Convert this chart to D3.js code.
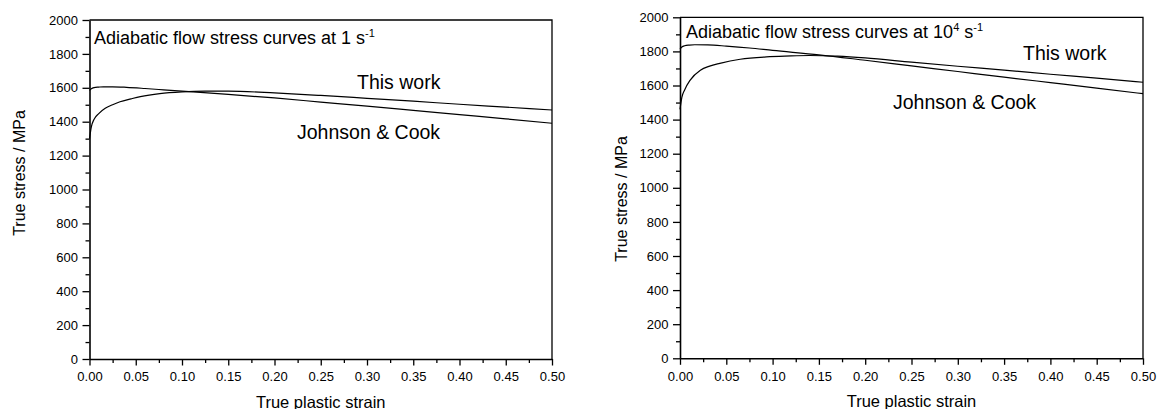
<!DOCTYPE html>
<html>
<head>
<meta charset="utf-8">
<script src="https://cdn.jsdelivr.net/npm/d3@7"></script>
<style>
  html, body { margin: 0; padding: 0; background: #fff; }
  svg { display: block; font-family: "Liberation Sans", Arial, sans-serif; }
  .axis path, .axis line { stroke: #000; }
  .axis text { fill: #000; font-size: 13px; font-family: "Liberation Sans", Arial, sans-serif; }
</style>
</head>
<body>
<svg id="chart" width="1160" height="409"></svg>
<script>
// Axis ticks (shared by both panels)
const xTicks = [0, 0.05, 0.10, 0.15, 0.20, 0.25, 0.30, 0.35, 0.40, 0.45, 0.50];
const xMinorTicks = [0.025, 0.075, 0.125, 0.175, 0.225, 0.275, 0.325, 0.375, 0.425, 0.475];
const yTicks = [0, 200, 400, 600, 800, 1000, 1200, 1400, 1600, 1800, 2000];
const yMinorTicks = [100, 300, 500, 700, 900, 1100, 1300, 1500, 1700, 1900];

// Strain rate 1 s^-1
const strain1This = [0, 0.002, 0.005, 0.01, 0.017, 0.025, 0.033, 0.045, 0.055, 0.076, 0.1, 0.125, 0.15, 0.2, 0.25, 0.3, 0.35, 0.4, 0.45, 0.5];
const stress1This = [1300, 1370, 1415, 1448, 1479, 1500, 1518, 1535, 1548, 1566, 1576, 1580, 1580, 1570, 1555, 1538, 1521, 1503, 1486, 1469];
const strain1JC = [0, 0.002, 0.005, 0.01, 0.015, 0.025, 0.04, 0.06, 0.08, 0.1, 0.15, 0.2, 0.25, 0.3, 0.35, 0.4, 0.45, 0.5];
const stress1JC = [1585, 1595, 1601, 1604, 1606, 1606, 1603, 1596, 1588, 1580, 1561, 1540, 1516, 1492, 1467, 1442, 1417, 1391];

// Strain rate 10^4 s^-1
const strain4This = [0, 0.002, 0.005, 0.011, 0.022, 0.032, 0.043, 0.065, 0.097, 0.12, 0.14, 0.17, 0.2, 0.25, 0.3, 0.35, 0.4, 0.45, 0.5];
const stress4This = [1460, 1530, 1574, 1632, 1690, 1714, 1730, 1754, 1769, 1774, 1776, 1772, 1762, 1737, 1713, 1690, 1666, 1643, 1619];
const strain4JC = [0, 0.002, 0.005, 0.01, 0.016, 0.03, 0.05, 0.075, 0.1, 0.15, 0.2, 0.25, 0.3, 0.35, 0.4, 0.45, 0.5];
const stress4JC = [1815, 1826, 1833, 1837, 1839, 1838, 1831, 1820, 1806, 1780, 1748, 1715, 1682, 1649, 1617, 1585, 1552];

const svg = d3.select("#chart");

const panels = [
  {
    box: { left: 89.5, right: 552, top: 20, bottom: 359 },
    title: [{ t: "Adiabatic flow stress curves at 1 s" }, { t: "-1", sup: true }],
    titlePos: [94, 44.3],
    series: [
      { name: "This work", x: strain1This, y: stress1This, label: [357, 88.5] },
      { name: "Johnson & Cook", x: strain1JC, y: stress1JC, label: [297, 138.5] }
    ],
    yTitle: { x: 25, y: 173 },
    xTitleY: 408
  },
  {
    box: { left: 680, right: 1143, top: 17.3, bottom: 358.3 },
    title: [{ t: "Adiabatic flow stress curves at 10" }, { t: "4", sup: true }, { t: " s" }, { t: "-1", sup: true }],
    titlePos: [686, 37.5],
    series: [
      { name: "This work", x: strain4This, y: stress4This, label: [1023, 60] },
      { name: "Johnson & Cook", x: strain4JC, y: stress4JC, label: [893, 108.5] }
    ],
    yTitle: { x: 627, y: 199 },
    xTitleY: 407
  }
];

panels.forEach(p => {
  const b = p.box;
  const x = d3.scaleLinear().domain([0, 0.5]).range([b.left, b.right]);
  const y = d3.scaleLinear().domain([0, 2000]).range([b.bottom, b.top]);
  const g = svg.append("g");

  // frame (top and right edges)
  g.append("path")
    .attr("d", `M${b.left},${b.top}H${b.right}V${b.bottom}`)
    .attr("fill", "none").attr("stroke", "#000").attr("stroke-width", 1.3);

  // minor ticks
  g.append("g").attr("class", "axis")
    .attr("transform", `translate(0,${b.bottom})`)
    .call(d3.axisBottom(x).tickValues(xMinorTicks).tickSize(4).tickFormat(""))
    .call(s => s.select(".domain").remove())
    .selectAll("line").attr("stroke-width", 1.3);
  g.append("g").attr("class", "axis")
    .attr("transform", `translate(${b.left},0)`)
    .call(d3.axisLeft(y).tickValues(yMinorTicks).tickSize(4).tickFormat(""))
    .call(s => s.select(".domain").remove())
    .selectAll("line").attr("stroke-width", 1.3);

  // major axes
  const xa = g.append("g").attr("class", "axis")
    .attr("transform", `translate(0,${b.bottom})`)
    .call(d3.axisBottom(x).tickValues(xTicks).tickSize(6.5).tickSizeOuter(0).tickPadding(6.5).tickFormat(d3.format(".2f")));
  xa.select(".domain").attr("stroke-width", 1.6);
  xa.selectAll("line").attr("stroke-width", 1.3);

  const ya = g.append("g").attr("class", "axis")
    .attr("transform", `translate(${b.left},0)`)
    .call(d3.axisLeft(y).tickValues(yTicks).tickSize(7).tickSizeOuter(0).tickPadding(4.5).tickFormat(d3.format("d")));
  ya.select(".domain").attr("stroke-width", 1.6);
  ya.selectAll("line").attr("stroke-width", 1.3);

  // curves
  const line = d3.line()
    .x(d => x(d[0]))
    .y(d => y(d[1]))
    .curve(d3.curveMonotoneX);
  p.series.forEach(s => {
    const pts = s.x.map((v, i) => [v, s.y[i]]);
    g.append("path").datum(pts)
      .attr("d", line)
      .attr("fill", "none")
      .attr("stroke", "#000")
      .attr("stroke-width", 1.2);
    g.append("text")
      .attr("x", s.label[0]).attr("y", s.label[1])
      .attr("font-size", 19.5)
      .attr("fill", "#000")
      .text(s.name);
  });

  // panel title with superscripts
  const t = g.append("text")
    .attr("x", p.titlePos[0]).attr("y", p.titlePos[1])
    .attr("font-size", 18).attr("fill", "#000");
  let raised = false;
  p.title.forEach(part => {
    const ts = t.append("tspan").text(part.t);
    if (part.sup && !raised) { ts.attr("dy", -7).attr("font-size", 11); raised = true; }
    else if (part.sup && raised) { ts.attr("font-size", 11); }
    else if (!part.sup && raised) { ts.attr("dy", 7); raised = false; }
  });

  // axis titles
  g.append("text")
    .attr("x", (b.left + b.right) / 2).attr("y", p.xTitleY)
    .attr("text-anchor", "middle").attr("font-size", 16.5).attr("fill", "#000")
    .text("True plastic strain");
  g.append("text")
    .attr("transform", `translate(${p.yTitle.x},${p.yTitle.y}) rotate(-90)`)
    .attr("text-anchor", "middle").attr("font-size", 16).attr("fill", "#000")
    .text("True stress / MPa");
});
</script>
</body>
</html>
